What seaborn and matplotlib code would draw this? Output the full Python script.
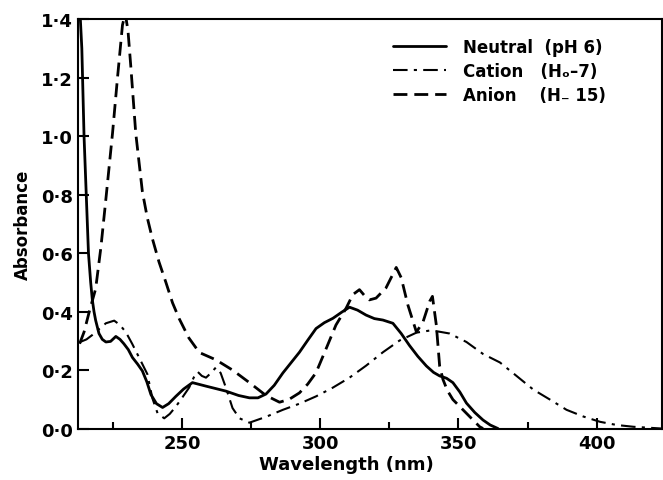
import numpy as np
import pandas as pd
import matplotlib
matplotlib.use("Agg")
import matplotlib.pyplot as plt
from matplotlib.ticker import MultipleLocator, FuncFormatter
import seaborn as sns

# Data (wavelength in nm, absorbance)
neutral_wl = [213.0, 213.8, 214.6, 215.4, 216.2, 217.0, 217.6, 218.2, 218.8, 220.0,
              221.2, 222.5, 224.2, 226.1, 227.6, 229.0, 230.6, 232.1, 234.0, 235.7,
              237.3, 238.8, 240.8, 243.0, 245.2, 247.8, 250.6, 253.8, 258.7, 265.9,
              270.5, 274.4, 277.5, 280.4, 283.4, 286.5, 292.5, 295.5, 298.5, 301.5,
              304.6, 307.8, 310.6, 313.5, 316.6, 319.6, 322.7, 326.3, 329.3, 332.3,
              335.3, 338.4, 341.0, 343.2, 345.7, 348.0, 350.5, 352.9, 355.9, 358.9,
              361.5, 364.3]
neutral_abs = [1.45, 1.30, 1.00, 0.80, 0.60, 0.50, 0.44, 0.40, 0.37, 0.325,
               0.305, 0.296, 0.298, 0.315, 0.305, 0.29, 0.27, 0.243, 0.22, 0.197,
               0.16, 0.116, 0.085, 0.072, 0.085, 0.11, 0.135, 0.157, 0.145, 0.128,
               0.113, 0.105, 0.105, 0.118, 0.148, 0.19, 0.261, 0.302, 0.342, 0.362,
               0.377, 0.398, 0.415, 0.405, 0.388, 0.376, 0.371, 0.36, 0.325, 0.284,
               0.247, 0.214, 0.192, 0.18, 0.172, 0.157, 0.125, 0.087, 0.055, 0.029,
               0.012, 0.0]

cation_wl = [213.2, 215.5, 217.6, 220.0, 222.5, 225.5, 227.5, 229.7, 232.0, 234.5,
             237.5, 239.3, 241.2, 243.6, 245.6, 247.8, 250.2, 252.6, 254.3, 255.7,
             257.2, 258.7, 260.5, 262.3, 264.0, 265.9, 268.3, 270.8, 274.4, 280.4,
             286.5, 292.5, 298.5, 304.6, 310.6, 316.6, 322.7, 328.7, 334.8, 340.2,
             346.8, 352.9, 358.9, 365.0, 371.0, 377.1, 383.1, 389.1, 395.2, 401.2,
             407.3, 413.3, 423.5]
cation_abs = [0.296, 0.305, 0.32, 0.34, 0.36, 0.369, 0.355, 0.33, 0.29, 0.243,
              0.186, 0.104, 0.052, 0.035, 0.05, 0.075, 0.107, 0.14, 0.175, 0.194,
              0.18, 0.174, 0.19, 0.209, 0.19, 0.14, 0.07, 0.035, 0.02, 0.04,
              0.064, 0.085, 0.11, 0.14, 0.174, 0.215, 0.261, 0.301, 0.328, 0.336,
              0.325, 0.296, 0.255, 0.226, 0.18, 0.133, 0.099, 0.064, 0.041, 0.023,
              0.012, 0.006, 0.0]

anion_wl = [213.0, 214.6, 216.5, 218.8, 220.7, 222.5, 224.9, 226.7, 228.5, 229.5,
            230.5, 231.5, 233.3, 235.7, 237.5, 239.3, 241.7, 244.2, 246.6, 249.0,
            252.5, 256.3, 262.3, 268.3, 274.4, 280.4, 285.3, 288.8, 292.5, 295.5,
            298.5, 302.1, 305.7, 309.4, 311.8, 314.2, 316.0, 317.8, 320.2, 323.8,
            326.3, 327.5, 329.3, 331.7, 334.8, 337.2, 339.6, 340.6, 342.0, 343.2,
            344.4, 346.0, 348.0, 352.9, 357.7, 358.9]
anion_abs = [0.29, 0.33, 0.40, 0.478, 0.62, 0.785, 1.01, 1.20, 1.38, 1.42,
             1.36, 1.24, 1.01, 0.81, 0.72, 0.65, 0.57, 0.50, 0.43, 0.376,
             0.31, 0.26, 0.235, 0.2, 0.157, 0.113, 0.09, 0.1, 0.122, 0.152,
             0.191, 0.272, 0.354, 0.412, 0.458, 0.475, 0.455, 0.44, 0.446, 0.481,
             0.528, 0.551, 0.516, 0.423, 0.33, 0.365, 0.435, 0.452, 0.354, 0.214,
             0.168, 0.13, 0.099, 0.052, 0.006, 0.0]

labels = ["Neutral  (pH 6)", "Cation   (H\u2092\u20137)", "Anion    (H\u208b 15)"]

sns.set_theme(style="white")
plt.rcParams["font.family"] = ["DejaVu Sans"]
plt.rcParams["font.weight"] = "bold"
plt.rcParams["text.color"] = "black"
plt.rcParams["axes.labelcolor"] = "black"
plt.rcParams["xtick.color"] = "black"
plt.rcParams["ytick.color"] = "black"

fig = plt.figure(figsize=(6.63, 4.81), dpi=100)
ax = fig.add_axes([0.118, 0.107, 0.880, 0.851])

sns.lineplot(x=neutral_wl, y=neutral_abs, ax=ax, color="black", lw=2.0,
             linestyle="-", label=labels[0])
sns.lineplot(x=cation_wl, y=cation_abs, ax=ax, color="black", lw=1.5,
             linestyle=(0, (7, 3, 1.5, 3)), label=labels[1])
sns.lineplot(x=anion_wl, y=anion_abs, ax=ax, color="black", lw=2.0,
             linestyle=(0, (5, 2.5)), label=labels[2])

ax.set_xlim(212.5, 423.5)
ax.set_ylim(0, 1.4)
ax.xaxis.set_major_locator(MultipleLocator(50))
ax.xaxis.set_minor_locator(MultipleLocator(25))
ax.yaxis.set_major_locator(MultipleLocator(0.2))
ax.yaxis.set_major_formatter(FuncFormatter(lambda v, p: f"{v:.1f}".replace(".", "\u00b7")))

ax.tick_params(axis="both", which="major", direction="in", length=8, width=1.5,
               labelsize=13, pad=4, colors="black")
ax.tick_params(axis="x", which="minor", direction="in", length=5, width=1.5, bottom=True)
ax.tick_params(axis="y", which="both", left=True)
ax.tick_params(axis="x", which="both", bottom=True, top=False)
for lab in ax.get_xticklabels() + ax.get_yticklabels():
    lab.set_fontweight("bold")

for s in ax.spines.values():
    s.set_color("black")
    s.set_linewidth(1.5)

ax.set_xlabel("Wavelength (nm)", fontsize=13, fontweight="bold", labelpad=2, color="black")
ax.xaxis.set_label_coords(0.46, -0.065)
ax.set_ylabel("Absorbance", fontsize=12, fontweight="bold", labelpad=6, color="black")

leg = ax.legend(loc="upper right", frameon=False, fontsize=12, handlelength=3.2,
                handletextpad=1.0, labelspacing=0.35, bbox_to_anchor=(0.93, 0.99))
for t in leg.get_texts():
    t.set_fontweight("bold")
    t.set_color("black")

fig.savefig("out.png", dpi=100)
